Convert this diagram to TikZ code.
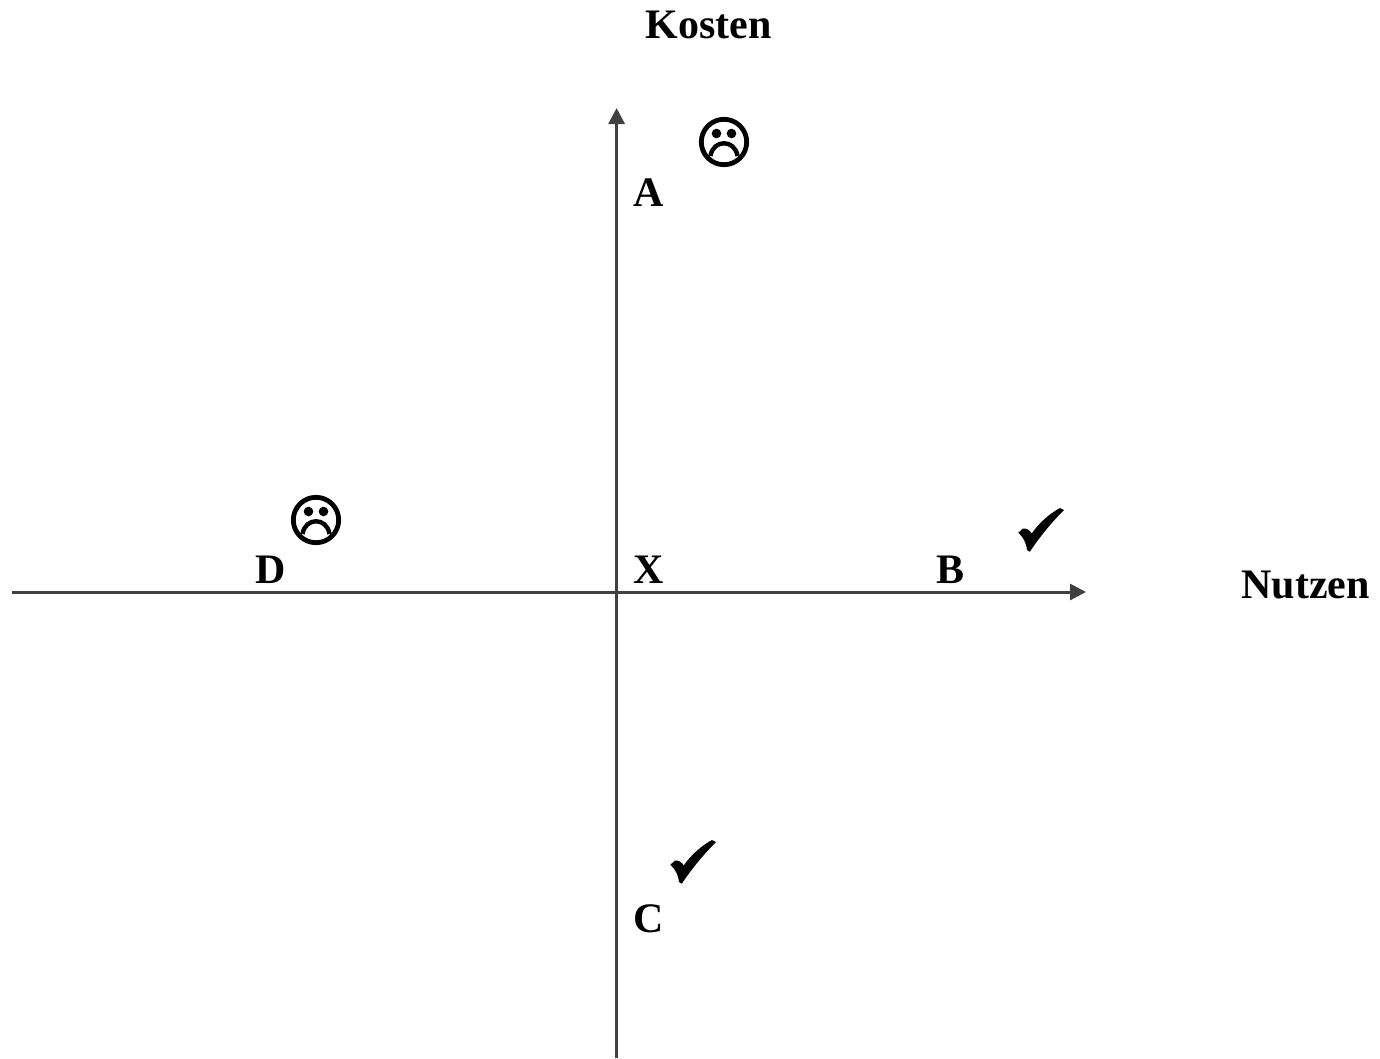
\documentclass[tikz,border=0pt]{standalone}
\usepackage{fontspec}
\setmainfont{Liberation Serif}
\usetikzlibrary{arrows.meta}
\definecolor{axiscol}{HTML}{404040}
\tikzset{
  lbl/.style={inner sep=0pt,font=\fontsize{42}{42}\selectfont\bfseries,text=black,anchor=base},
  axis/.style={draw=axiscol,line width=3pt,-{Triangle[length=16pt,width=16pt]}},
  frown/.pic={
    \draw[black,line width=4.8pt] (0,0) circle (22.7);
    \fill[black] (-7.5,-8.5) circle (4.8) (7.5,-8.5) circle (4.8);
    \draw[black,line width=4.4pt] (-13.5,14) .. controls (-11,-3) and (11,-3) .. (13.5,14);
  },
  tick/.pic={
    \fill[black] (-22.7,2.7) -- (-18,-1.5) .. controls (-15,-2) and (-11,0) .. (-9.3,3.5)
      .. controls (-2,-7) and (8,-16) .. (19,-22) -- (23,-20)
      .. controls (9,-6) and (-2,8) .. (-11.2,21.7) -- (-14,20)
      .. controls (-15,12) and (-18,7) .. cycle;
  }
}
\begin{document}
\begin{tikzpicture}[x=1pt,y=-1pt]
\useasboundingbox (0,0) rectangle (1380,1058);
\coordinate (xs) at (12,592);
\coordinate (xe) at (1086,592);
\coordinate (ys) at (616.6,1058);
\coordinate (ye) at (616.6,108);
\draw[axis] (xs) -- (xe);
\draw[axis] (ys) -- (ye);
\node[lbl] (kosten) at (708.5,38) {Kosten};
\node[lbl] (nutzen) at (1305.5,598.5) {Nutzen};
\node[lbl] (a) at (648.5,206) {A};
\node[lbl] (b) at (950.5,583.5) {B};
\node[lbl] (c) at (648.5,932) {C};
\node[lbl] (d) at (270.5,583.5) {D};
\node[lbl] (x) at (648.5,583.5) {X};
\pic at (724,142) {frown};
\pic at (316,520) {frown};
\pic at (1041,530) {tick};
\pic at (693,862) {tick};
\end{tikzpicture}
\end{document}
